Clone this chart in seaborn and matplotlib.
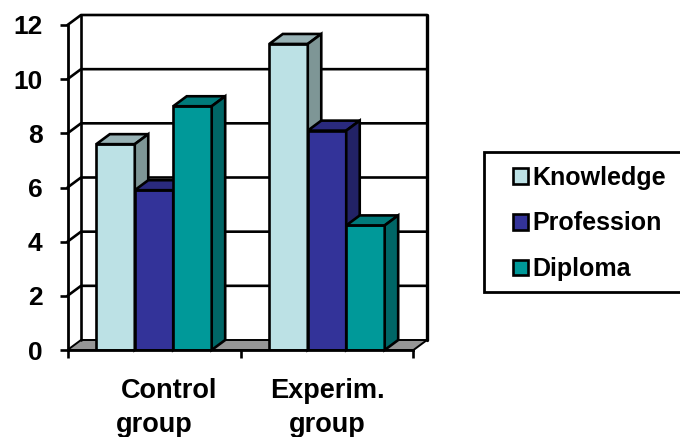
import pandas as pd
import seaborn as sns
import matplotlib.pyplot as plt
from matplotlib.patches import Polygon, Rectangle

# Values
groups = ['Control group', 'Experim. group']
measures = ['Knowledge', 'Profession', 'Diploma']
knowledge = [7.6, 11.3]
profession = [5.9, 8.1]
diploma = [9.0, 4.6]
y_ticks = [0, 2, 4, 6, 8, 10, 12]

# Colours of front, top and side faces
front_colors = ['#BCE1E5', '#333399', '#009999']
top_colors = ['#98B2B5', '#2A2A7E', '#007A7A']
side_colors = ['#7E9696', '#222266', '#006666']

df = pd.DataFrame({
    'group': groups * 3,
    'measure': [m for m in measures for _ in groups],
    'score': knowledge + profession + diploma,
})

sns.set_style('ticks')
plt.rcParams['font.family'] = ['Liberation Sans', 'DejaVu Sans']
plt.rcParams['font.weight'] = 'bold'
plt.rcParams['text.color'] = 'black'
plt.rcParams['xtick.color'] = 'black'
plt.rcParams['ytick.color'] = 'black'
plt.rcParams['axes.edgecolor'] = 'black'

W, H = 680, 437
fig = plt.figure(figsize=(W / 100, H / 100), dpi=100)
ax = fig.add_axes([67.5 / W, (H - 350) / H, 346 / W, 325 / H])

# Front faces of the bars
sns.barplot(data=df, x='group', y='score', hue='measure', hue_order=measures,
            palette=front_colors, saturation=1, width=0.667, gap=0,
            edgecolor='black', linewidth=1.9, ax=ax)
handles, labels = ax.get_legend_handles_labels()
ax.get_legend().remove()

ax.set_xlim(-0.5, 1.5)
ax.set_ylim(0, 12)
ax.set_xlabel('')
ax.set_ylabel('')
ax.set_xticks([-0.5, 0.5, 1.5])
ax.set_xticklabels([])
ax.set_yticks(y_ticks)
ax.tick_params(axis='y', labelsize=19, length=6, width=1.9, pad=12, labelcolor='black')
ax.tick_params(axis='x', length=6, width=1.9)
sns.despine(ax=ax)
for side in ['left', 'bottom']:
    ax.spines[side].set_linewidth(2)
    ax.spines[side].set_zorder(8)

# Depth of the fake 3D box, in data units
dx = 13.5 / 173
dy = 10 / 27.08
x0, x1 = ax.get_xlim()
wall = dict(color='black', lw=1.9, clip_on=False, zorder=1)

# Floor, back wall and gridlines
ax.add_patch(Polygon([(x0, 0), (x0 + dx, dy), (x1 + dx, dy), (x1, 0)], closed=True,
                     facecolor='#969696', edgecolor='black', lw=1.4, clip_on=False, zorder=1))
for t in y_ticks[1:]:
    ax.plot([x0, x0 + dx, x1 + dx], [t, t + dy, t + dy], **wall)
ax.plot([x0 + dx, x0 + dx], [dy, 12 + dy], **wall)
ax.plot([x1 + dx, x1 + dx], [dy, 12 + dy], color='black', lw=2.4, clip_on=False, zorder=1)

# Top and side faces, built from the bars seaborn drew
for h, container in enumerate(ax.containers):
    for bar in container:
        bar.set_zorder(3 + h)
        left, w, top = bar.get_x(), bar.get_width(), bar.get_height()
        right = left + w
        ax.add_patch(Polygon([(left, top), (left + dx, top + dy), (right + dx, top + dy), (right, top)],
                             closed=True, facecolor=top_colors[h], edgecolor='black', lw=1.9,
                             clip_on=False, zorder=3 + h))
        ax.add_patch(Polygon([(right, 0), (right + dx, dy), (right + dx, top + dy), (right, top)],
                             closed=True, facecolor=side_colors[h], edgecolor='black', lw=1.9,
                             clip_on=False, zorder=3 + h))

# Category labels, the two lines are not centred on each other in the original
line_x = [[169, 154], [327, 327]]
for g, xs in zip(groups, line_x):
    for word, px, py in zip(g.split(' '), xs, [391, 425]):
        fig.text(px / W, 1 - py / H, word, ha='center', va='center', fontsize=19.5,
                 fontweight='bold', color='black')

# Legend box runs off the right edge
fig.add_artist(Rectangle((484 / W, 1 - 292 / H), 210 / W, 140 / H, transform=fig.transFigure,
                         facecolor='white', edgecolor='black', lw=2))
leg = fig.legend(handles, labels, loc='center left', bbox_to_anchor=(512.5 / W, 1 - 223.5 / H),
                 frameon=False, borderpad=0, borderaxespad=0, labelspacing=0.87,
                 handlelength=0.62, handleheight=0.6, handletextpad=0.17,
                 prop={'size': 18, 'weight': 'bold'})
for t in leg.get_texts():
    t.set_color('black')

fig.savefig('out.png', dpi=100)
